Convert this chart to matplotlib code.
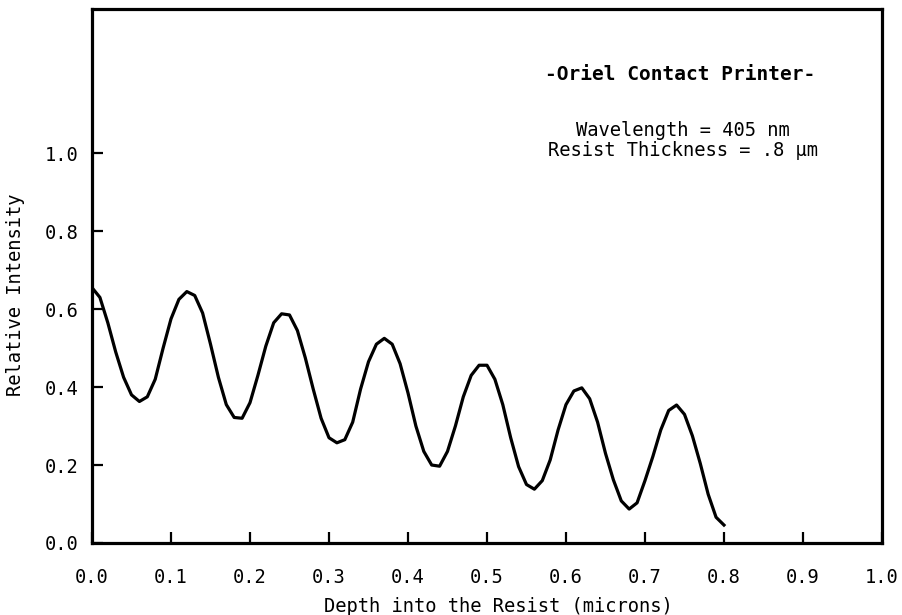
import numpy as np
import matplotlib
matplotlib.use("Agg")
import matplotlib.pyplot as plt

# relative intensity vs depth, sampled every 0.01 micron
depth = np.round(np.arange(0, 81) * 0.01, 2)
intensity = [0.655, 0.630, 0.565, 0.490, 0.425, 0.380, 0.363, 0.375, 0.420, 0.500,
             0.575, 0.625, 0.645, 0.635, 0.590, 0.510, 0.425, 0.355, 0.322, 0.320,
             0.360, 0.430, 0.505, 0.565, 0.588, 0.585, 0.545, 0.475, 0.395, 0.320,
             0.270, 0.257, 0.265, 0.310, 0.395, 0.465, 0.510, 0.525, 0.510, 0.460,
             0.385, 0.300, 0.235, 0.200, 0.197, 0.235, 0.300, 0.375, 0.430, 0.456,
             0.456, 0.420, 0.355, 0.270, 0.196, 0.150, 0.138, 0.160, 0.213, 0.290,
             0.355, 0.390, 0.398, 0.370, 0.310, 0.230, 0.162, 0.108, 0.087, 0.103,
             0.160, 0.222, 0.290, 0.340, 0.354, 0.330, 0.275, 0.204, 0.125, 0.066,
             0.046]

xticks = np.round(np.arange(0, 1.01, 0.1), 1)
yticks = np.round(np.arange(0, 1.01, 0.2), 1)

plt.rcParams['font.family'] = ['DejaVu Sans Mono']
plt.rcParams['font.size'] = 13.5

fig = plt.figure(figsize=(9.03, 6.15), dpi=100)
ax = fig.add_axes([0.1019, 0.1171, 0.8748, 0.8683])

ax.plot(depth, intensity, color='black', lw=2.3)

ax.set_xlim(0, 1.0)
ax.set_ylim(0, 1.37)
ax.set_xticks(xticks)
ax.set_xticklabels(['%.1f' % v for v in xticks])
ax.set_yticks(yticks)
ax.set_yticklabels(['%.1f' % v for v in yticks])
ax.tick_params(axis='x', direction='in', length=8, width=1.6, pad=18)
ax.tick_params(axis='y', direction='in', length=8, width=1.6, pad=10)
for s in ax.spines.values():
    s.set_linewidth(2.3)

ax.set_xlabel('Depth into the Resist (microns)')
ax.set_ylabel('Relative Intensity')
ax.xaxis.set_label_coords(0.5146, -0.101)
ax.yaxis.set_label_coords(-0.0848, 0.464)

ax.text(0.745, 1.203, '-Oriel Contact Printer-', ha='center', va='center',
        fontweight='bold', fontsize=14)
ax.text(0.748, 1.059, 'Wavelength = 405 nm', ha='center', va='center')
ax.text(0.748, 1.008, 'Resist Thickness = .8 \u03bcm', ha='center', va='center')

plt.savefig('out.png', dpi=100)
